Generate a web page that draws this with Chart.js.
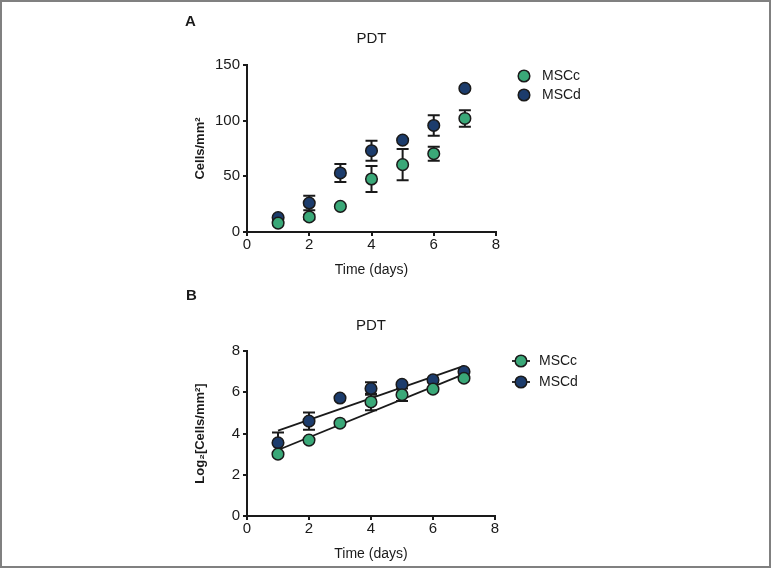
<!DOCTYPE html>
<html>
<head>
<meta charset="utf-8">
<script src="https://cdn.jsdelivr.net/npm/chart.js@4.4.1/dist/chart.umd.min.js"></script>
<style>
  body { margin: 0; background: #fff; }
  #page { position: relative; width: 771px; height: 568px; background: #fff; }
  #page canvas { position: absolute; left: 0; }
  #frame { position: absolute; left: 0; top: 0; width: 771px; height: 568px; box-sizing: border-box; border: 2px solid #808080; pointer-events: none; }
</style>
</head>
<body>
<div id="page">
  <canvas id="chart-a" width="771" height="284" style="top:0"></canvas>
  <canvas id="chart-b" width="771" height="284" style="top:284px"></canvas>
  <div id="frame"></div>
</div>
<script>
const days = [1, 2, 3, 4, 5, 6, 7];

// panel A: cells per mm2
const cellsC = [8, 13.5, 23, 47.6, 60.5, 70.3, 102];
const cellsCErr = [0, 2, 0, 11.7, 14, 6.3, 7.4];
const cellsD = [13, 26, 53, 73, 82.5, 95.7, 129];
const cellsDErr = [0, 6.5, 8, 9, 0, 9.2, 0];

// panel B: log2 cells per mm2
const logC = [3.0, 3.68, 4.5, 5.53, 5.88, 6.15, 6.68];
const logCErr = [0, 0, 0, 0.4, 0.3, 0, 0];
const logD = [3.55, 4.6, 5.72, 6.18, 6.38, 6.6, 7.0];
const logDErr = [0.5, 0.42, 0, 0.3, 0, 0, 0];

// fitted lines (end points)
const fitDays = [1, 7];
const fitC = [3.2, 6.88];
const fitD = [4.14, 7.28];

const seriesNames = ['MSCc', 'MSCd'];
const green = '#3aa878';
const navy = '#1c3c6c';
const ink = '#1a1a1a';
const sans = '"Liberation Sans", Arial, sans-serif';

const pts = (xs, ys) => xs.map((x, i) => ({ x: x, y: ys[i] }));

const errorBars = {
    id: 'errorBars',
    beforeDatasetsDraw(chart) {
        const ctx = chart.ctx;
        const ys = chart.scales.y;
        chart.data.datasets.forEach((ds, i) => {
            if (!ds.errors) return;
            const meta = chart.getDatasetMeta(i);
            meta.data.forEach((pt, j) => {
                const e = ds.errors[j];
                if (!e) return;
                const v = ds.data[j].y;
                const top = ys.getPixelForValue(v + e);
                const bot = ys.getPixelForValue(v - e);
                ctx.save();
                ctx.strokeStyle = ink;
                ctx.lineWidth = 2;
                ctx.beginPath();
                ctx.moveTo(pt.x, top); ctx.lineTo(pt.x, bot);
                ctx.moveTo(pt.x - 6, top); ctx.lineTo(pt.x + 6, top);
                ctx.moveTo(pt.x - 6, bot); ctx.lineTo(pt.x + 6, bot);
                ctx.stroke();
                ctx.restore();
            });
        });
    }
};

const panelText = {
    id: 'panelText',
    afterDraw(chart, args, opts) {
        const ctx = chart.ctx;
        const area = chart.chartArea;
        ctx.save();
        ctx.fillStyle = ink;
        ctx.textBaseline = 'middle';
        // panel letter
        ctx.font = 'bold 15px ' + sans;
        ctx.textAlign = 'left';
        ctx.fillText(opts.letter, opts.letterX, opts.letterY);
        // title
        ctx.font = '15px ' + sans;
        ctx.textAlign = 'center';
        ctx.fillText(opts.title, (area.left + area.right) / 2, opts.titleY);
        // legend
        const items = chart.data.datasets.filter(d => d.inLegend);
        items.forEach((ds, i) => {
            const cx = opts.legendX;
            const cy = opts.legendY + i * opts.legendGap;
            if (opts.withLine) {
                ctx.strokeStyle = ink;
                ctx.lineWidth = 1.8;
                ctx.beginPath();
                ctx.moveTo(cx - 9, cy); ctx.lineTo(cx + 9, cy);
                ctx.stroke();
            }
            ctx.beginPath();
            ctx.arc(cx, cy, 5.8, 0, Math.PI * 2);
            ctx.fillStyle = ds.backgroundColor;
            ctx.fill();
            ctx.strokeStyle = ink;
            ctx.lineWidth = 1.5;
            ctx.stroke();
            ctx.fillStyle = ink;
            ctx.font = '14px ' + sans;
            ctx.textAlign = 'left';
            ctx.fillText(ds.label, cx + 18, cy);
        });
        ctx.restore();
    }
};

function scatterSet(label, color, ys, errs) {
    return {
        type: 'scatter',
        label: label,
        data: pts(days, ys),
        errors: errs,
        inLegend: true,
        backgroundColor: color,
        borderColor: ink,
        borderWidth: 1.5,
        pointRadius: 5.8,
        pointHoverRadius: 5.8,
        order: 1
    };
}

function fitSet(ys) {
    return {
        type: 'line',
        data: pts(fitDays, ys),
        borderColor: ink,
        borderWidth: 1.8,
        pointRadius: 0,
        fill: false,
        order: 2
    };
}

function axisOptions(yMax, yStep, yTitle, rightPad, topPad) {
    const tickFont = { family: sans, size: 15 };
    return {
        responsive: false,
        animation: false,
        events: [],
        layout: { padding: { left: 187, right: rightPad, top: topPad, bottom: 5 } },
        scales: {
            x: {
                type: 'linear',
                min: 0, max: 8,
                ticks: { stepSize: 2, color: ink, font: tickFont, padding: 0 },
                grid: { drawOnChartArea: false, color: ink, lineWidth: 2, tickLength: 4 },
                border: { color: ink, width: 2 },
                title: { display: true, text: 'Time (days)', color: ink, font: { family: sans, size: 14 }, padding: 0 },
                afterFit: s => { s.height = 47; }
            },
            y: {
                min: 0, max: yMax,
                ticks: { stepSize: yStep, color: ink, font: tickFont, padding: 3 },
                grid: { drawOnChartArea: false, color: ink, lineWidth: 2, tickLength: 4 },
                border: { color: ink, width: 2 },
                title: { display: true, text: yTitle, color: ink, font: { family: sans, size: 13, weight: 'bold' }, padding: { top: 6, bottom: 0 } },
                afterFit: s => { s.width = 60; }
            }
        },
        plugins: {
            legend: { display: false },
            tooltip: { enabled: false }
        }
    };
}

const optsA = axisOptions(150, 50, 'Cells/mm²', 275, 65);
optsA.plugins.panelText = { letter: 'A', letterX: 185, letterY: 22, title: 'PDT', titleY: 39, legendX: 524, legendY: 76, legendGap: 19, withLine: false };

const chartA = new Chart(document.getElementById('chart-a'), {
    type: 'scatter',
    data: {
        datasets: [
            scatterSet(seriesNames[0], green, cellsC, cellsCErr),
            scatterSet(seriesNames[1], navy, cellsD, cellsDErr)
        ]
    },
    options: optsA,
    plugins: [errorBars, panelText]
});

const optsB = axisOptions(8, 2, 'Log₂[Cells/mm²]', 276, 67);
optsB.plugins.panelText = { letter: 'B', letterX: 186, letterY: 12, title: 'PDT', titleY: 42, legendX: 521, legendY: 77, legendGap: 21, withLine: true };

const chartB = new Chart(document.getElementById('chart-b'), {
    type: 'scatter',
    data: {
        datasets: [
            scatterSet(seriesNames[0], green, logC, logCErr),
            scatterSet(seriesNames[1], navy, logD, logDErr),
            fitSet(fitC),
            fitSet(fitD)
        ]
    },
    options: optsB,
    plugins: [errorBars, panelText]
});
</script>
</body>
</html>
